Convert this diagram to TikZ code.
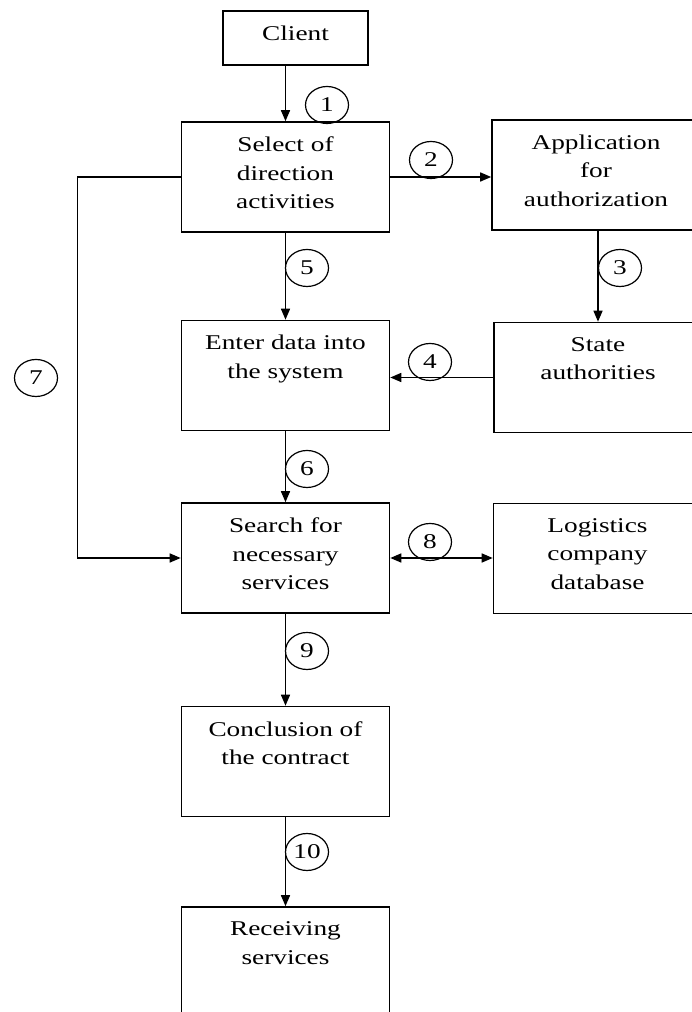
\documentclass[tikz,border=0pt]{standalone}
\usepackage{fontspec}
\setmainfont{Liberation Serif}[FakeStretch=1.3]
\usetikzlibrary{arrows.meta,shapes.geometric}

\begin{document}
\begin{tikzpicture}[y=10pt, x=10pt,font=\fontsize{21}{28.5}\selectfont,
  stage/.style={draw, line width=1.6pt, minimum width=208pt, minimum height=110pt, inner sep=0pt},
  stagetext/.style={anchor=north, align=center, inner sep=0pt, yshift=-15.5pt},
  num/.style={draw, ellipse, line width=1.2pt, minimum width=43pt, minimum height=37pt, inner sep=0pt},
  arr/.style={line width=1.5pt, -{Triangle[length=11pt,width=9pt]}},
  arrboth/.style={line width=1.5pt, {Triangle[length=11pt,width=9pt]}-{Triangle[length=11pt,width=9pt]}}]

\useasboundingbox (0,0) rectangle (69.2,101.2);

% boxes
\node[stage, minimum width=145pt, minimum height=54pt] (client) at (29.55,97.4) {};
\node[stage] (select) at (28.55,83.5) {};
\node[stage] (appl)   at (59.6,83.7) {};
\node[stage] (enter)  at (28.55,63.65) {};
\node[stage] (state)  at (59.8,63.45) {};
\node[stage] (search) at (28.55,45.4) {};
\node[stage] (logi)   at (59.75,45.35) {};
\node[stage] (concl)  at (28.55,25.05) {};
\node[stage] (recv)   at (28.55,5.0) {};

\node[stagetext] (clienttext) at (client.north) {Client};
\node[stagetext] (selecttext) at (select.north) {Select of\\direction\\activities};
\node[stagetext] (appltext)   at (appl.north)   {Application\\for\\authorization};
\node[stagetext] (entertext)  at (enter.north)  {Enter data into\\the system};
\node[stagetext] (statetext)  at (state.north)  {State\\authorities};
\node[stagetext] (searchtext) at (search.north) {Search for\\necessary\\services};
\node[stagetext] (logitext)   at (logi.north)   {Logistics\\company\\database};
\node[stagetext] (concltext)  at (concl.north)  {Conclusion of\\the contract};
\node[stagetext] (recvtext)   at (recv.north)   {Receiving\\services};

% links
\coordinate (leftbend) at (7.75,0);
\draw[arr] (select.north |- client.south) -- (select.north);
\draw[arr] (select.east) -- (select.east -| appl.west);
\draw[arr] (state.north |- appl.south) -- (state.north);
\draw[arr] (state.west) -- (state.west -| enter.east);
\draw[arr] (select.south) -- (enter.north);
\draw[arr] (enter.south) -- (search.north);
\draw[arr] (select.west) -| (leftbend |- search.west) -- (search.west);
\draw[arrboth] (search.east) -- (search.east -| logi.west);
\draw[arr] (search.south) -- (concl.north);
\draw[arr] (concl.south) -- (recv.north);

% step numbers
\node[num] (n1)  at (32.7,90.7) {1};
\node[num] (n2)  at (43.1,85.2) {2};
\node[num] (n3)  at (62.0,74.4) {3};
\node[num] (n4)  at (43.0,65.0) {4};
\node[num] (n5)  at (30.7,74.4) {5};
\node[num] (n6)  at (30.7,54.3) {6};
\node[num] (n7)  at (3.6,63.4)  {7};
\node[num] (n8)  at (43.0,47.0) {8};
\node[num] (n9)  at (30.7,36.1) {9};
\node[num] (n10) at (30.7,16.0) {10};
\end{tikzpicture}
\end{document}
